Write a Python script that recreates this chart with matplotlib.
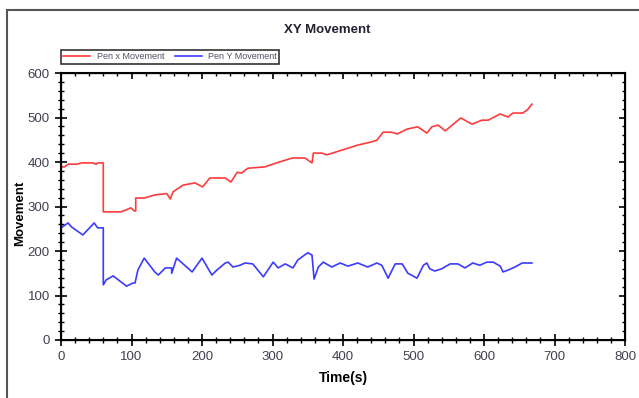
import matplotlib.pyplot as plt
from matplotlib.patches import Rectangle
from matplotlib.ticker import MultipleLocator

# Pen X movement (red)
x_time = [0, 5, 10, 22, 30, 45, 50, 52, 56, 60, 60, 70, 85, 92, 99, 104, 106, 106, 118, 133, 150, 155, 159,
          173, 190, 201, 211, 233, 241, 250, 256, 265, 289, 306, 328, 346, 356, 358, 370, 377, 399, 421,
          440, 448, 457, 469, 477, 491, 506, 519, 526, 535, 545, 555, 567, 583, 597, 606, 623, 634, 641,
          655, 662, 668]
x_move = [389, 389, 395, 395, 398, 398, 395, 398, 398, 398, 288, 288, 288, 292, 297, 290, 290, 319, 319, 326, 329,
          317, 333, 348, 353, 344, 364, 364, 355, 377, 375, 386, 389, 398, 409, 409, 398, 420, 420, 416, 427, 438,
          445, 449, 467, 467, 463, 474, 479, 465, 479, 483, 470, 483, 499, 485, 494, 494, 508, 501, 510,
          510, 518, 530]

# Pen Y movement (blue)
y_time = [0, 10, 15, 31, 47, 52, 60, 60, 64, 74, 93, 102, 105, 109, 118, 133, 138, 148, 157, 157, 164, 186, 200,
          214, 221, 233, 237, 244, 254, 261, 272, 287, 301, 308, 318, 329, 336, 350, 356, 359, 365, 372, 384,
          396, 407, 421, 435, 448, 455, 464, 474, 484, 492, 505, 514, 519, 523, 530, 540, 552, 563, 573,
          584, 594, 604, 613, 623, 627, 634, 644, 654, 668]
y_move = [252, 263, 254, 236, 263, 252, 252, 124, 135, 144, 121, 128, 128, 157, 184, 153, 146, 162, 162, 150, 184, 153, 184,
          146, 157, 173, 175, 164, 168, 173, 171, 142, 175, 162, 171, 162, 180, 196, 191, 137, 164, 175, 164,
          173, 166, 173, 164, 173, 168, 139, 171, 171, 150, 139, 168, 173, 160, 155, 160, 171, 171, 162,
          173, 168, 175, 175, 166, 153, 157, 164, 173, 173]

plt.rcParams['font.family'] = ['Liberation Sans', 'DejaVu Sans']

fig = plt.figure(figsize=(6.39, 3.98), dpi=100)
ax = fig.add_axes([61 / 639, 1 - 340 / 398, 564 / 639, 267 / 398])

ax.plot(x_time, x_move, color='#ff3b3b', lw=1.2, label='Pen x Movement')
ax.plot(y_time, y_move, color='#3b3bff', lw=1.2, label='Pen Y Movement')

ax.set_xlim(0, 800)
ax.set_ylim(0, 600)
ax.xaxis.set_major_locator(MultipleLocator(100))
ax.xaxis.set_minor_locator(MultipleLocator(20))
ax.yaxis.set_major_locator(MultipleLocator(100))
ax.yaxis.set_minor_locator(MultipleLocator(20))
ax.tick_params(which='major', direction='inout', length=8, width=1.2, labelsize=9.5, labelcolor='#404050', pad=4)
ax.tick_params(which='minor', direction='inout', length=5, width=1.0)
for s in ax.spines.values():
    s.set_linewidth(1.5)

# inward ticks on the top and right edges
axr = ax.twinx()
axr.set_ylim(0, 600)
axr.yaxis.set_major_locator(MultipleLocator(100))
axr.yaxis.set_minor_locator(MultipleLocator(20))
axr.tick_params(which='major', direction='in', length=4, width=1.2, labelright=False)
axr.tick_params(which='minor', direction='in', length=2.5, width=1.0)
axt = ax.twiny()
axt.set_xlim(0, 800)
axt.xaxis.set_major_locator(MultipleLocator(100))
axt.xaxis.set_minor_locator(MultipleLocator(20))
axt.tick_params(which='major', direction='in', length=4, width=1.2, labeltop=False)
axt.tick_params(which='minor', direction='in', length=2.5, width=1.0)

ax.set_xlabel('Time(s)', fontsize=10, fontweight='bold', labelpad=6)
ax.set_ylabel('Movement', fontsize=9.5, fontweight='bold')
ax.yaxis.set_label_coords(-0.062, 0.476)

fig.text(0.512, 0.925, 'XY Movement', ha='center', va='center', fontsize=9.5, fontweight='bold',
         color='#222233')

leg = ax.legend(loc='lower left', bbox_to_anchor=(0.0, 1.035), ncol=2, fontsize=6.5, frameon=True,
                fancybox=False, edgecolor='black', borderpad=0.25, handlelength=3.0, columnspacing=1.2,
                handletextpad=0.7, borderaxespad=0)
leg.get_frame().set_linewidth(1.2)
for t in leg.get_texts():
    t.set_color('#505060')

fig.patches.append(Rectangle((7 / 639, -0.05), 1.1, 1 - 10 / 398 + 0.05, transform=fig.transFigure,
                             fill=False, edgecolor='#555555', lw=1.5))

fig.savefig('out.png', dpi=100)
